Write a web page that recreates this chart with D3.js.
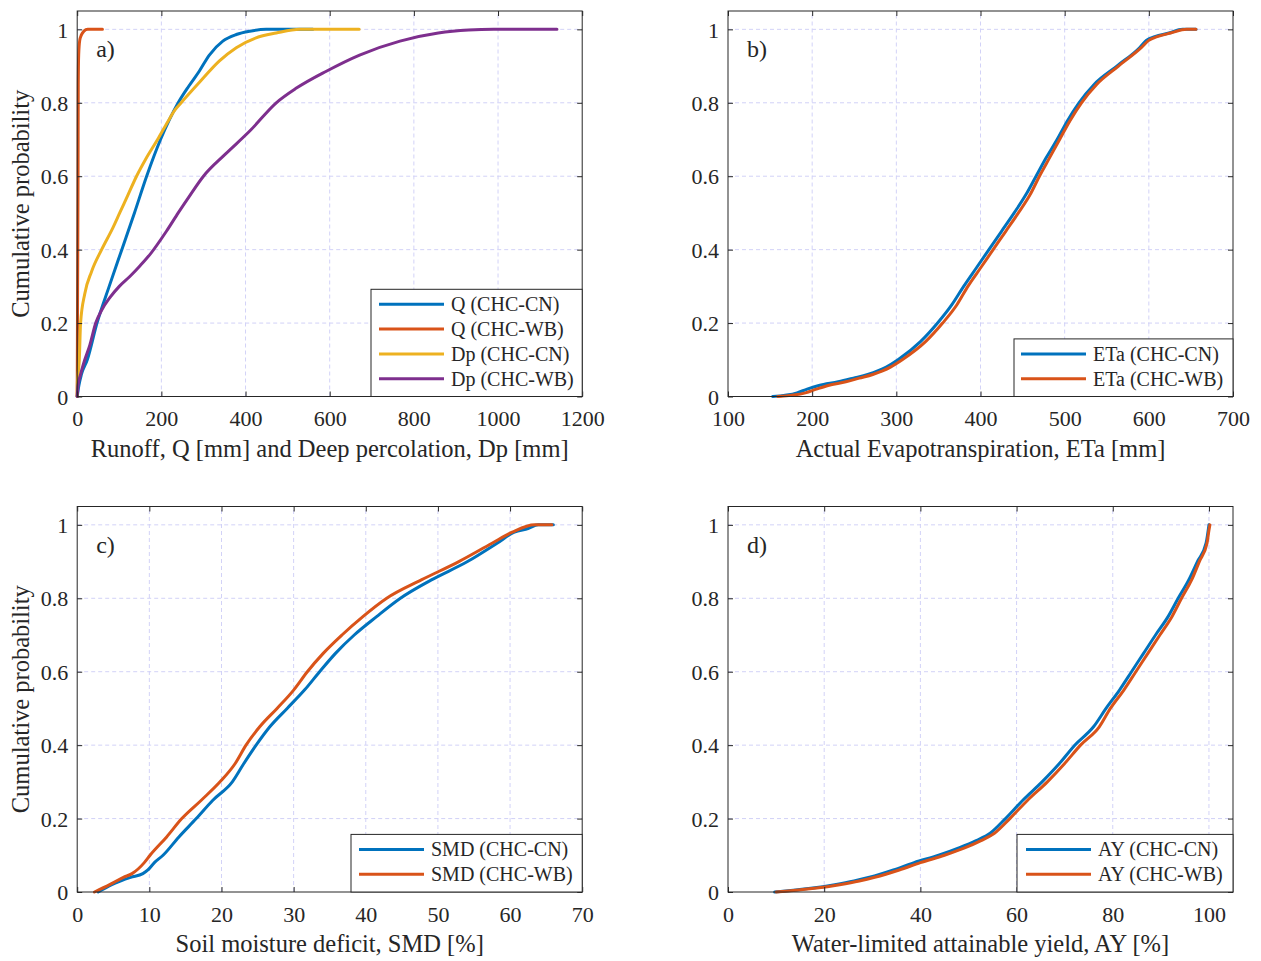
<!DOCTYPE html>
<html>
<head>
<meta charset="utf-8">
<script src="https://cdn.jsdelivr.net/npm/d3@7"></script>
<style>
  body { margin: 0; background: #fff; }
  svg { display: block; }
  text { font-family: "Liberation Serif", "Times New Roman", serif; fill: #262626; }
</style>
</head>
<body>
<svg id="chart" width="1261" height="961"></svg>
<script>
// [value, cumulative probability] pairs
const qCN = [[0,0],[4,0.03],[10,0.06],[24,0.1],[47,0.2],[76,0.3],[106,0.4],[136,0.5],[165,0.6],[198,0.7],[240,0.8],[265,0.845],[290,0.886],[314,0.93],[346,0.968],[378,0.986],[410,0.995],[449,1],[560,1]];
const qWB = [[0,0],[1,0.3],[2,0.6],[2.5,0.85],[3.5,0.93],[6,0.97],[10,0.985],[16,0.995],[25,1],[60,1]];
const dpCN = [[0,0],[0.5,0.04],[2,0.06],[5,0.1],[8,0.2],[18,0.28],[34,0.34],[58,0.4],[85,0.46],[101,0.5],[121,0.55],[141,0.6],[162,0.645],[191,0.7],[216,0.75],[232,0.78],[247,0.8],[290,0.855],[338,0.914],[378,0.95],[425,0.977],[473,0.99],[529,1],[670,1]];
const dpWB = [[0,0],[2,0.03],[8,0.06],[18,0.1],[30,0.14],[44,0.2],[58,0.235],[78,0.27],[100,0.3],[125,0.327],[150,0.357],[175,0.39],[212,0.45],[240,0.5],[268,0.548],[300,0.6],[352,0.66],[410,0.723],[473,0.8],[521,0.84],[592,0.886],[671,0.93],[767,0.968],[858,0.99],[930,0.998],[990,1],[1140,1]];

const etaCN = [[153,0],[182,0.01],[194,0.02],[208,0.03],[231,0.04],[249,0.05],[266,0.06],[288,0.08],[302,0.1],[329,0.15],[349,0.2],[366,0.25],[380,0.3],[395,0.35],[410,0.4],[425,0.45],[440,0.5],[454,0.55],[466,0.6],[478,0.65],[491,0.7],[503,0.75],[517,0.8],[535,0.85],[562,0.9],[589,0.95],[597,0.97],[607,0.98],[624,0.99],[640,1],[656,1]];
const etaWB = [[159,0],[192,0.01],[205,0.02],[219,0.03],[240,0.04],[256,0.05],[272,0.06],[293,0.08],[307,0.1],[335,0.15],[355,0.2],[372,0.25],[385,0.3],[400,0.35],[415,0.4],[430,0.45],[445,0.5],[459,0.55],[470,0.6],[482,0.65],[494,0.7],[506,0.75],[520,0.8],[538,0.85],[564,0.9],[591,0.95],[600,0.97],[610,0.98],[626,0.99],[645,1],[656,1]];

const smdCN = [[2.9,0],[4.8,0.02],[7.4,0.04],[9.1,0.05],[9.8,0.06],[10.7,0.08],[11.9,0.1],[14.1,0.15],[16.5,0.2],[18.8,0.25],[21.5,0.3],[23.1,0.35],[24.8,0.4],[26.7,0.45],[29.1,0.5],[31.5,0.55],[33.6,0.6],[35.8,0.65],[38.4,0.7],[41.5,0.75],[44.8,0.8],[49.1,0.85],[54.1,0.9],[58.2,0.95],[60.6,0.98],[62.5,0.99],[63.9,1],[66,1]];
const smdWB = [[2.4,0],[4.5,0.02],[6.4,0.04],[7.6,0.05],[9.3,0.08],[10.1,0.1],[12.4,0.15],[14.5,0.2],[17.2,0.25],[19.8,0.3],[21.9,0.35],[23.4,0.4],[25.3,0.45],[27.7,0.5],[30,0.55],[31.9,0.6],[34.1,0.65],[36.7,0.7],[39.6,0.75],[42.9,0.8],[47.7,0.85],[52.9,0.9],[57.5,0.95],[60.3,0.98],[63.4,1],[65.8,1]];

const ayCN = [[9.7,0],[17.2,0.01],[22.2,0.02],[26.2,0.03],[29.4,0.04],[34.4,0.06],[38.7,0.08],[43.8,0.1],[48,0.12],[51.6,0.14],[54.5,0.16],[57.7,0.2],[61.3,0.25],[65.3,0.3],[68.9,0.35],[72.1,0.4],[76,0.45],[78.6,0.5],[81.4,0.55],[83.9,0.6],[86.4,0.65],[88.9,0.7],[91.5,0.75],[93.6,0.8],[95.8,0.85],[97.6,0.9],[99.4,0.95],[100,1]];
const ayWB = [[10,0],[18,0.01],[23.2,0.02],[27.3,0.03],[30.5,0.04],[35.6,0.06],[40,0.08],[45,0.1],[49.2,0.12],[52.6,0.14],[55.4,0.16],[58.6,0.2],[62.3,0.25],[66.4,0.3],[70,0.35],[73.3,0.4],[77.2,0.45],[79.5,0.5],[82.3,0.55],[84.8,0.6],[87.3,0.65],[89.8,0.7],[92.3,0.75],[94.3,0.8],[96.4,0.85],[98,0.9],[99.6,0.95],[100,0.985],[100.2,1]];

const probTicks = [0, 0.2, 0.4, 0.6, 0.8, 1];
const ticksA = [0, 200, 400, 600, 800, 1000, 1200];
const ticksB = [100, 200, 300, 400, 500, 600, 700];
const ticksC = [0, 10, 20, 30, 40, 50, 60, 70];
const ticksD = [0, 20, 40, 60, 80, 100];

const blue = '#0072BD', orange = '#D95319', yellow = '#EDB120', purple = '#7E2F8E';
const axisColor = '#262626';
const gridColor = '#d2d2f7';

const svg = d3.select('#chart');
svg.append('rect').attr('width', 1261).attr('height', 961).attr('fill', '#fff');

function drawPanel(cfg) {
  const x = d3.scaleLinear().domain(cfg.xDomain).range([cfg.left, cfg.left + 505]);
  const y = d3.scaleLinear().domain([0, 1.05]).range([cfg.top + 385.5, cfg.top]);
  const g = svg.append('g');
  const x0 = x.range()[0], x1 = x.range()[1];
  const y0 = y.range()[0], y1 = y.range()[1];

  // Grid
  const gridX = cfg.xTicks.filter((d) => x(d) > x0 + 1 && x(d) < x1 - 1);
  const grid = g.append('g').attr('stroke', gridColor).attr('stroke-dasharray', '4,3');
  grid.selectAll('.gx').data(gridX)
    .join('line')
    .attr('class', 'gx')
    .attr('x1', (d) => x(d)).attr('x2', (d) => x(d))
    .attr('y1', y0).attr('y2', y1);
  grid.selectAll('.gy').data(probTicks.slice(1))
    .join('line')
    .attr('class', 'gy')
    .attr('x1', x0).attr('x2', x1)
    .attr('y1', (d) => y(d)).attr('y2', (d) => y(d));

  // Curves
  const line = d3.line()
    .x((d) => x(d[0]))
    .y((d) => y(d[1]))
    .curve(d3.curveMonotoneX);
  cfg.series.forEach((s) => {
    g.append('path')
      .attr('d', line(s.data))
      .attr('fill', 'none')
      .attr('stroke', s.color)
      .attr('stroke-width', 3)
      .attr('stroke-linejoin', 'round')
      .attr('stroke-linecap', 'round');
  });

  // Axes (box with inner ticks on all four sides)
  const tl = 5;
  const axB = g.append('g').attr('transform', `translate(0,${y0})`)
    .call(d3.axisBottom(x).tickValues(cfg.xTicks).tickSizeInner(-tl).tickSizeOuter(0).tickFormat(d3.format('d')));
  const axT = g.append('g').attr('transform', `translate(0,${y1})`)
    .call(d3.axisTop(x).tickValues(cfg.xTicks).tickSizeInner(-tl).tickSizeOuter(0).tickFormat(''));
  const axL = g.append('g').attr('transform', `translate(${x0},0)`)
    .call(d3.axisLeft(y).tickValues(probTicks).tickSizeInner(-tl).tickSizeOuter(0).tickFormat(d3.format('~g')));
  const axR = g.append('g').attr('transform', `translate(${x1},0)`)
    .call(d3.axisRight(y).tickValues(probTicks).tickSizeInner(-tl).tickSizeOuter(0).tickFormat(''));
  [axB, axT, axL, axR].forEach((a) => {
    a.select('.domain').remove();
    a.selectAll('line').attr('stroke', axisColor);
    a.selectAll('text').attr('font-size', 22).attr('fill', axisColor)
      .attr('font-family', '"Liberation Serif", "Times New Roman", serif');
  });
  axB.selectAll('text').attr('y', 22).attr('dy', '0.35em');
  axL.selectAll('text').attr('x', -9).attr('dy', '0.35em');

  g.append('rect')
    .attr('x', x0).attr('y', y1)
    .attr('width', x1 - x0).attr('height', y0 - y1)
    .attr('fill', 'none').attr('stroke', axisColor).attr('stroke-width', 1);

  // Panel label
  g.append('text')
    .attr('x', x0 + 19).attr('y', y1 + 46)
    .attr('font-size', 24)
    .text(cfg.tag);

  // Axis titles
  g.append('text')
    .attr('x', (x0 + x1) / 2).attr('y', y0 + 60)
    .attr('text-anchor', 'middle')
    .attr('font-size', 24.5)
    .text(cfg.xLabel);
  if (cfg.yLabel) {
    g.append('text')
      .attr('transform', `translate(${x0 - 48},${(y0 + y1) / 2}) rotate(-90)`)
      .attr('text-anchor', 'middle')
      .attr('font-size', 24.5)
      .text(cfg.yLabel);
  }

  // Legend
  const L = cfg.legend;
  const rowH = 24.8;
  const lh = cfg.series.length * rowH + 8;
  const lg = g.append('g');
  lg.append('rect')
    .attr('x', L.left).attr('y', y0 - lh)
    .attr('width', x1 - L.left).attr('height', lh)
    .attr('fill', '#fff').attr('stroke', axisColor).attr('stroke-width', 1);
  cfg.series.forEach((s, i) => {
    const cy = y0 - lh + 15 + i * rowH;
    lg.append('line')
      .attr('x1', L.left + L.pad).attr('x2', L.left + L.pad + 65)
      .attr('y1', cy).attr('y2', cy)
      .attr('stroke', s.color).attr('stroke-width', 3);
    lg.append('text')
      .attr('x', L.left + L.pad + 72).attr('y', cy)
      .attr('dy', '0.35em')
      .attr('font-size', 20)
      .text(s.name);
  });
}

drawPanel({
  left: 77.2, top: 11, xDomain: [0, 1200], xTicks: ticksA, tag: 'a)',
  xLabel: 'Runoff, Q [mm] and Deep percolation, Dp [mm]',
  yLabel: 'Cumulative probability',
  legend: { left: 371, pad: 8 },
  series: [
    { name: 'Q (CHC-CN)', color: blue, data: qCN },
    { name: 'Q (CHC-WB)', color: orange, data: qWB },
    { name: 'Dp (CHC-CN)', color: yellow, data: dpCN },
    { name: 'Dp (CHC-WB)', color: purple, data: dpWB },
  ],
});

drawPanel({
  left: 728, top: 11, xDomain: [100, 700], xTicks: ticksB, tag: 'b)',
  xLabel: 'Actual Evapotranspiration, ETa [mm]',
  legend: { left: 1014, pad: 7 },
  series: [
    { name: 'ETa (CHC-CN)', color: blue, data: etaCN },
    { name: 'ETa (CHC-WB)', color: orange, data: etaWB },
  ],
});

drawPanel({
  left: 77.2, top: 506.5, xDomain: [0, 70], xTicks: ticksC, tag: 'c)',
  xLabel: 'Soil moisture deficit, SMD [%]',
  yLabel: 'Cumulative probability',
  legend: { left: 351, pad: 8 },
  series: [
    { name: 'SMD (CHC-CN)', color: blue, data: smdCN },
    { name: 'SMD (CHC-WB)', color: orange, data: smdWB },
  ],
});

drawPanel({
  left: 728, top: 506.5, xDomain: [0, 105], xTicks: ticksD, tag: 'd)',
  xLabel: 'Water-limited attainable yield, AY [%]',
  legend: { left: 1017, pad: 9 },
  series: [
    { name: 'AY (CHC-CN)', color: blue, data: ayCN },
    { name: 'AY (CHC-WB)', color: orange, data: ayWB },
  ],
});
</script>
</body>
</html>
